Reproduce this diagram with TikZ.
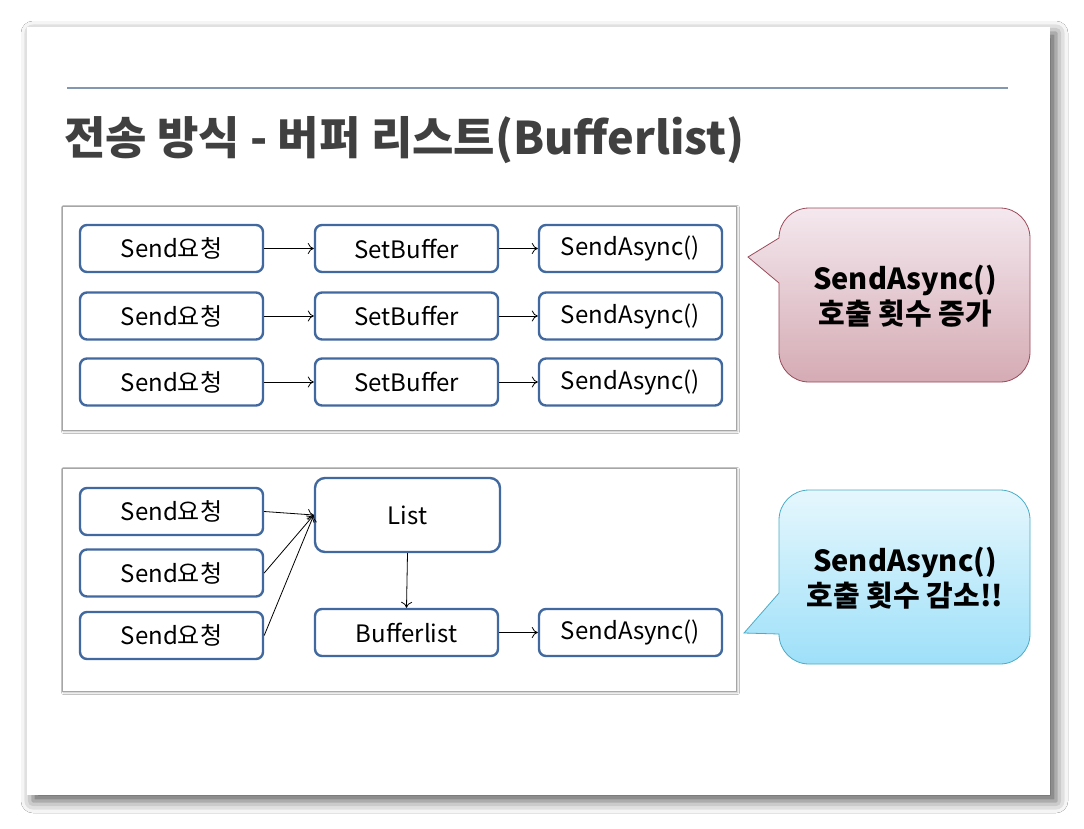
\documentclass[tikz,border=0pt]{standalone}
\usepackage{fontspec}
\setmainfont{Noto Sans CJK KR}
\usetikzlibrary{arrows.meta,shadows.blur}
\definecolor{boxblue}{HTML}{41689F}
\definecolor{titlegray}{HTML}{404040}
\definecolor{ruleblue}{HTML}{8497B0}
\definecolor{pinktop}{HTML}{F4E8EE}
\definecolor{pinkbot}{HTML}{D5ABB4}
\definecolor{pinkline}{HTML}{9A4A5A}
\definecolor{cyantop}{HTML}{E6F7FD}
\definecolor{cyanbot}{HTML}{9EE0F9}
\definecolor{cyanline}{HTML}{4AACC6}
\tikzset{
  x=1pt,y=-1pt,
  rbox/.style={draw=boxblue,line width=2.4pt,rounded corners=7pt,fill=white,
    minimum width=183pt,minimum height=47pt,inner sep=0pt,
    font=\fontsize{24}{28}\selectfont},
  conn/.style={draw=black,line width=0.8pt,-{To[length=6pt,width=11pt]}},
  panel/.style={draw={gray!70},line width=0.8pt,fill=white,
    blur shadow={shadow xshift=1.5pt,shadow yshift=-1.5pt,shadow blur radius=2pt,shadow opacity=30}},
  calltext/.style={font=\fontsize{29}{35}\selectfont\bfseries,align=center,text=black}
}
\begin{document}
\begin{tikzpicture}
\useasboundingbox[fill=white] (0,0) rectangle (1084,828);
% slide
\path[fill=white,blur shadow={shadow xshift=6pt,shadow yshift=-6pt,shadow blur radius=12pt,shadow opacity=65}]
  (27,27) rectangle (1050,795);
\draw[ruleblue,line width=1.2pt] (67,88) -- (1008,88);
\node[anchor=west,inner sep=0pt,text=titlegray,font=\fontsize{45}{52}\selectfont\bfseries] (title) at (64,140) {전송 방식 - 버퍼 리스트(Bufferlist)};
% panels
\path[panel] (62,206) rectangle (736,430);
\path[panel] (62,468) rectangle (736,691);
% top rows
\node[rbox] (a1) at (171.5,248.5) {Send요청};
\node[rbox] (a2) at (406.5,248.5) {SetBuffer};
\node[rbox] (a3) at (630.5,248.5) {SendAsync()};
\node[rbox] (b1) at (171.5,316) {Send요청};
\node[rbox] (b2) at (406.5,316) {SetBuffer};
\node[rbox] (b3) at (630.5,316) {SendAsync()};
\node[rbox] (c1) at (171.5,382) {Send요청};
\node[rbox] (c2) at (406.5,382) {SetBuffer};
\node[rbox] (c3) at (630.5,382) {SendAsync()};
\foreach \r in {a,b,c}{
  \draw[conn] (\r1.east) -- (\r2.west);
  \draw[conn] (\r2.east) -- (\r3.west);
}
% bottom
\node[rbox] (s1) at (171.5,511.5) {Send요청};
\node[rbox] (s2) at (171.5,573) {Send요청};
\node[rbox] (s3) at (171.5,635.5) {Send요청};
\node[rbox,minimum width=185pt,minimum height=74pt,rounded corners=10pt] (list) at (407.5,515) {List};
\node[rbox] (buf) at (406.5,632.5) {Bufferlist};
\node[rbox] (bsa) at (630.5,632.5) {SendAsync()};
\draw[conn] (s1.east) -- (list.west);
\draw[conn] (s2.east) -- (list.west);
\draw[conn] (s3.east) -- (list.west);
\draw[conn] (list.south) -- (buf.north);
\draw[conn] (buf.east) -- (bsa.west);
% callouts
\def\R{30}
\shade[top color=pinktop,bottom color=pinkbot,draw=pinkline,line width=0.8pt]
  (779,283) -- (748,257) -- (779,238) -- (779,208+\R) arc[start angle=180,end angle=270,radius=\R]
  -- (1030-\R,208) arc[start angle=270,end angle=360,radius=\R]
  -- (1030,382-\R) arc[start angle=0,end angle=90,radius=\R]
  -- (779+\R,382) arc[start angle=90,end angle=180,radius=\R] -- cycle;
\node[calltext] (t1) at (905,296) {SendAsync()\\호출 횟수 증가};
\shade[top color=cyantop,bottom color=cyanbot,draw=cyanline,line width=0.8pt]
  (779,634) -- (744,633) -- (779,593) -- (779,490+\R) arc[start angle=180,end angle=270,radius=\R]
  -- (1030-\R,490) arc[start angle=270,end angle=360,radius=\R]
  -- (1030,664-\R) arc[start angle=0,end angle=90,radius=\R]
  -- (779+\R,664) arc[start angle=90,end angle=180,radius=\R] -- cycle;
\node[calltext] (t2) at (905,578) {SendAsync()\\호출 횟수 감소!!};
\end{tikzpicture}
\end{document}
